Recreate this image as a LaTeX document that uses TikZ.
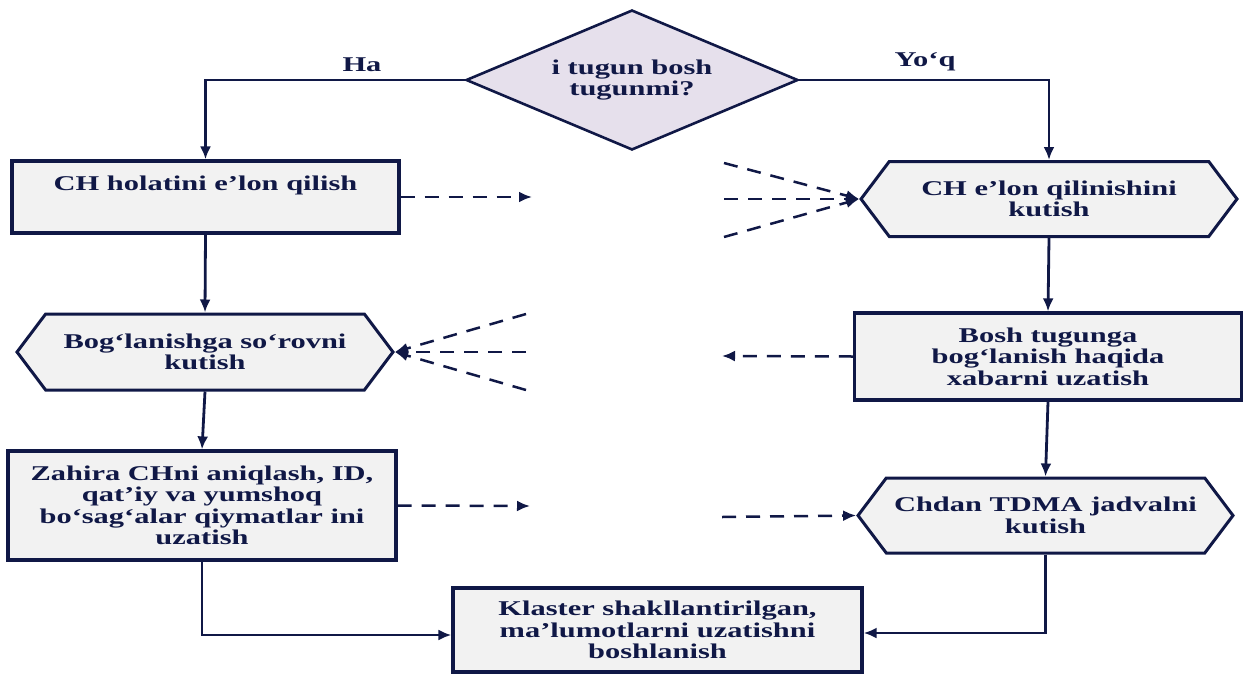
\documentclass[tikz,border=0pt]{standalone}
\usepackage{fontspec}
\setmainfont{Liberation Serif}[FakeStretch=1.45]
\usetikzlibrary{shapes.geometric,shapes.symbols,arrows.meta}
\definecolor{navy}{RGB}{16,24,70}
\definecolor{boxfill}{RGB}{242,242,242}
\definecolor{diafill}{RGB}{230,224,236}
\begin{document}
\begin{tikzpicture}[x=1pt,y=-1pt,
  font=\fontsize{21}{21.5}\selectfont\bfseries,
  every node/.style={text=navy},
  rbox/.style={draw=navy, line width=3.2pt, fill=boxfill, align=center, inner sep=0pt},
  hexbox/.style={signal, signal to=west and east, signal pointer angle=106, draw=navy, line width=3pt, fill=boxfill, align=center, inner sep=0pt},
  dia/.style={diamond, aspect=2.37, draw=navy, line width=2.6pt, fill=diafill, align=center, inner sep=0pt},
  conn/.style={draw=navy, line width=2.8pt, -{Latex[length=13pt,width=11pt]}},
  dconn/.style={draw=navy, line width=2.5pt, dash pattern=on 14pt off 10pt, -{Latex[length=13pt,width=11pt]}}
]
\useasboundingbox (0,0) rectangle (1244,675);

\node[dia, minimum width=332pt, minimum height=140pt] (q) at (632,80) {i tugun bosh\\tugunmi?};

\node[rbox, minimum width=387pt, minimum height=72pt] (b1) at (205.5,197) {CH holatini e’lon qilish\\ \strut};
\node[hexbox, minimum width=376pt, minimum height=76pt] (h2) at (205,352) {Bog‘lanishga so‘rovni\\kutish};
\node[rbox, minimum width=388pt, minimum height=109pt] (b3) at (202,505.5) {Zahira CHni aniqlash, ID,\\qat’iy va yumshoq\\bo‘sag‘alar qiymatlar ini\\uzatish};
\node[rbox, minimum width=409pt, minimum height=84pt] (kl) at (657.5,630) {Klaster shakllantirilgan,\\ma’lumotlarni uzatishni\\boshlanish};

\node[hexbox, minimum width=376pt, minimum height=75pt] (h1) at (1049,199) {CH e’lon qilinishini\\kutish};
\node[rbox, minimum width=387pt, minimum height=87pt] (bs) at (1048,356.5) {Bosh tugunga\\bog‘lanish haqida\\xabarni uzatish};
\node[hexbox, minimum width=375pt, minimum height=75pt] (h3) at (1045.5,515.5) {Chdan TDMA jadvalni\\kutish};

\node (ha) at (362,65) {Ha};
\node (yq) at (925,62) {Yo‘q};

\draw[conn] (q.west) -| (b1.north);
\draw[conn] (q.east) -| (h1.north);
\draw[conn] (b1.south) -- (h2.north);
\draw[conn] (h2.south) -- (b3.north);
\draw[conn] (b3.south) |- ([yshift=-5pt]kl.west);
\draw[conn] (h1.south) -- (bs.north);
\draw[conn] (bs.south) -- (h3.north);
\draw[conn] (h3.south) |- ([yshift=-3pt]kl.east);

\coordinate (d1) at (532,197);
\coordinate (e1a) at (724,163);
\coordinate (e1b) at (724,199);
\coordinate (e1c) at (724,237);
\coordinate (d2) at (722,356);
\coordinate (e2a) at (526,314);
\coordinate (e2b) at (526,352);
\coordinate (e2c) at (526,390);
\coordinate (d3) at (530,506);
\coordinate (e3) at (722,517);

\draw[dconn] (b1.east) -- (d1);
\draw[dconn] (e1a) -- (h1.west);
\draw[dconn] (e1b) -- (h1.west);
\draw[dconn] (e1c) -- (h1.west);
\draw[dconn] (bs.west) -- (d2);
\draw[dconn] (e2a) -- (h2.east);
\draw[dconn] (e2b) -- (h2.east);
\draw[dconn] (e2c) -- (h2.east);
\draw[dconn] (b3.east) -- (d3);
\draw[dconn] (e3) -- (h3.west);
\end{tikzpicture}
\end{document}
